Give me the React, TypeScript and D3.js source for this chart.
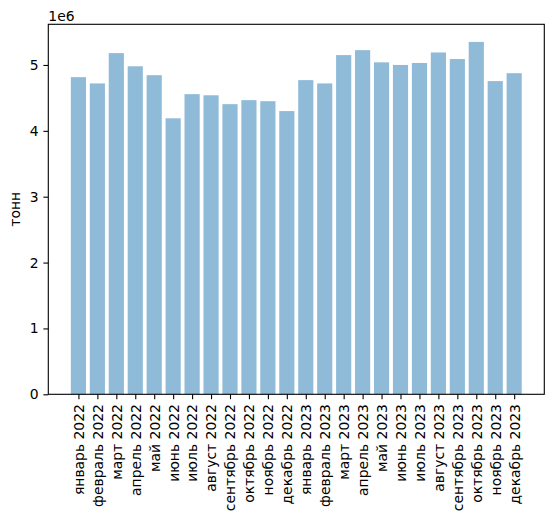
import { useEffect, useRef } from 'react';
import * as d3 from 'd3';

const months = [
  'январь 2022', 'февраль 2022', 'март 2022', 'апрель 2022', 'май 2022', 'июнь 2022',
  'июль 2022', 'август 2022', 'сентябрь 2022', 'октябрь 2022', 'ноябрь 2022', 'декабрь 2022',
  'январь 2023', 'февраль 2023', 'март 2023', 'апрель 2023', 'май 2023', 'июнь 2023',
  'июль 2023', 'август 2023', 'сентябрь 2023', 'октябрь 2023', 'ноябрь 2023', 'декабрь 2023',
];

const tonnes = [
  4815000, 4720000, 5180000, 4980000, 4845000, 4190000,
  4557000, 4540000, 4405000, 4466000, 4450000, 4300000,
  4770000, 4720000, 5150000, 5225000, 5040000, 5000000,
  5030000, 5190000, 5090000, 5350000, 4755000, 4875000,
];

const yTicks = [0, 1, 2, 3, 4, 5];

const App = () => {
  const svgRef = useRef<SVGSVGElement>(null);

  useEffect(() => {
    if (!svgRef.current) return;
    const width = 554;
    const height = 521;
    const margin = { top: 24.3, right: 9.7, bottom: 126.7, left: 48.3 };
    const innerWidth = width - margin.left - margin.right;
    const innerHeight = height - margin.top - margin.bottom;
    const font = 'DejaVu Sans, sans-serif';

    const svg = d3.select(svgRef.current);
    svg.selectAll('*').remove();

    const g = svg.append('g')
      .attr('transform', `translate(${margin.left},${margin.top})`);

    const n = months.length;
    const barW = 0.8;
    const lo = -barW / 2;
    const hi = n - 1 + barW / 2;
    const pad = (hi - lo) * 0.05;
    const x = d3.scaleLinear().domain([lo - pad, hi + pad]).range([0, innerWidth]);

    const yMax = d3.max(tonnes)! * 1.05 / 1e6;
    const y = d3.scaleLinear().domain([0, yMax]).range([innerHeight, 0]);

    // bars
    g.selectAll('.bar')
      .data(tonnes)
      .join('rect')
      .attr('class', 'bar')
      .attr('x', (_, i) => x(i - barW / 2))
      .attr('width', x(barW) - x(0))
      .attr('y', d => y(d / 1e6))
      .attr('height', d => innerHeight - y(d / 1e6))
      .attr('fill', '#1f77b4')
      .attr('fill-opacity', 0.5);

    // x axis
    const xAxis = g.append('g')
      .attr('transform', `translate(0,${innerHeight})`)
      .call(d3.axisBottom(x).tickValues(d3.range(n)).tickSize(4.9).tickPadding(4.9)
        .tickFormat(d => months[d as number]));
    xAxis.select('.domain').remove();
    xAxis.selectAll('line').attr('stroke', '#000').attr('stroke-width', 1.1);
    xAxis.selectAll('text')
      .attr('font-family', font)
      .attr('font-size', '13.9px')
      .attr('fill', '#000')
      .attr('text-anchor', 'end')
      .attr('transform', 'rotate(-90)')
      .attr('x', -9.8)
      .attr('y', 0)
      .attr('dy', '0.35em');

    // y axis
    const yAxis = g.append('g')
      .call(d3.axisLeft(y).tickValues(yTicks).tickSize(4.9).tickPadding(4.9)
        .tickFormat(d => String(d)));
    yAxis.select('.domain').remove();
    yAxis.selectAll('line').attr('stroke', '#000').attr('stroke-width', 1.1);
    yAxis.selectAll('text')
      .attr('font-family', font)
      .attr('font-size', '13.9px')
      .attr('fill', '#000');

    // spines
    g.append('rect')
      .attr('x', 0)
      .attr('y', 0)
      .attr('width', innerWidth)
      .attr('height', innerHeight)
      .attr('fill', 'none')
      .attr('stroke', '#000')
      .attr('stroke-width', 1.1);

    // offset text
    svg.append('text')
      .attr('x', margin.left)
      .attr('y', 21)
      .attr('font-family', font)
      .attr('font-size', '13.9px')
      .attr('fill', '#000')
      .text('1e6');

    // y label
    svg.append('text')
      .attr('transform', `translate(20,${margin.top + innerHeight / 2}) rotate(-90)`)
      .attr('text-anchor', 'middle')
      .attr('font-family', font)
      .attr('font-size', '13.9px')
      .attr('fill', '#000')
      .text('тонн');
  }, []);

  return (
    <svg
      ref={svgRef}
      width={554}
      height={521}
      style={{ position: 'absolute', left: 0, top: 0, background: '#fff' }}
    />
  );
};

export default App;
